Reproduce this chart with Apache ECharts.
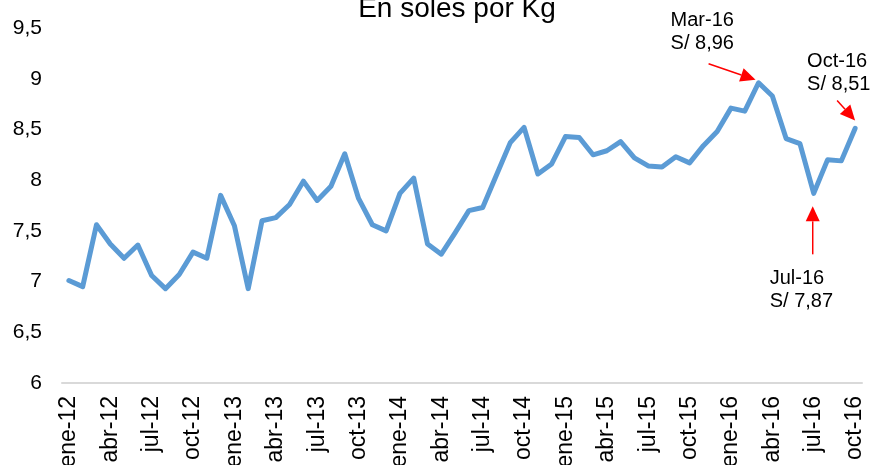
<!DOCTYPE html>
<html>
<head>
<meta charset="utf-8">
<script src="https://cdn.jsdelivr.net/npm/echarts@6/dist/echarts.min.js"></script>
<style>html,body{margin:0;padding:0;background:#fff}#c{width:871px;height:465px}</style>
</head>
<body>
<div id="c"></div>
<script>
const years = ['12','13','14','15','16'];
const months = ['ene','feb','mar','abr','may','jun','jul','ago','sep','oct','nov','dic'];
const categories = [];
years.forEach(y => months.forEach(m => categories.push(m + '-' + y)));
categories.length = 58; // ene-12 .. oct-16

const prices = [
  7.01, 6.95, 7.56, 7.37, 7.23, 7.36, 7.06, 6.93, 7.07, 7.29, 7.23, 7.85,
  7.55, 6.93, 7.60, 7.63, 7.76, 7.99, 7.80, 7.94, 8.26, 7.82, 7.56, 7.50,
  7.87, 8.02, 7.37, 7.27, 7.48, 7.70, 7.73, 8.05, 8.37, 8.52, 8.06, 8.16,
  8.43, 8.42, 8.25, 8.29, 8.38, 8.22, 8.14, 8.13, 8.23, 8.17, 8.34, 8.48,
  8.71, 8.68, 8.96, 8.83, 8.41, 8.36, 7.87, 8.20, 8.19, 8.51
];

const yTicks = [6, 6.5, 7, 7.5, 8, 8.5, 9, 9.5];
const titleText = 'En soles por Kg';
const notes = [
  { idx: 50, lines: ['Mar-16', 'S/ 8,96'] },
  { idx: 57, lines: ['Oct-16', 'S/ 8,51'] },
  { idx: 54, lines: ['Jul-16', 'S/ 7,87'] }
];

const FONT = '"Liberation Sans", Arial, sans-serif';
const chart = echarts.init(document.getElementById('c'), null, { renderer: 'canvas' });

chart.setOption({
  animation: false,
  backgroundColor: '#fff',
  title: {
    text: titleText,
    left: 452, top: -10,
    textAlign: 'center',
    textStyle: { fontFamily: FONT, fontSize: 28, fontWeight: 'normal', color: '#000' }
  },
  grid: { left: 62, right: 9, top: 28, bottom: 82, containLabel: false, outerBoundsMode: 'none' },
  xAxis: {
    type: 'category',
    data: categories,
    boundaryGap: true,
    axisLine: { lineStyle: { color: '#d9d9d9', width: 2 } },
    axisTick: { interval: 2, length: 7, lineStyle: { color: '#d9d9d9', width: 2 } },
    axisLabel: {
      interval: 2, rotate: 90, margin: 13,
      fontFamily: FONT, fontSize: 23, color: '#000'
    },
    splitLine: { show: false }
  },
  yAxis: {
    type: 'value',
    min: yTicks[0], max: yTicks[yTicks.length - 1], interval: 0.5,
    axisLine: { show: false },
    axisTick: { show: false },
    splitLine: { show: false },
    axisLabel: {
      margin: 20, fontFamily: FONT, fontSize: 21, color: '#000',
      formatter: v => String(v).replace('.', ',')
    }
  },
  series: [{
    type: 'line',
    data: prices,
    symbol: 'none',
    lineStyle: { color: '#5B9BD5', width: 5, join: 'round', cap: 'round' },
    z: 2
  }]
});

function arrow(tail, tip, headLen, headW) {
  const dx = tip[0] - tail[0], dy = tip[1] - tail[1];
  const L = Math.sqrt(dx * dx + dy * dy);
  const ux = dx / L, uy = dy / L;
  const bx = tip[0] - ux * headLen, by = tip[1] - uy * headLen;
  const px = -uy * headW / 2, py = ux * headW / 2;
  return [
    { type: 'line', shape: { x1: tail[0], y1: tail[1], x2: bx, y2: by },
      style: { stroke: '#ff0000', lineWidth: 1.5 }, z: 10 },
    { type: 'polygon', shape: { points: [tip, [bx + px, by + py], [bx - px, by - py]] },
      style: { fill: '#ff0000' }, z: 10 }
  ];
}

const P = i => chart.convertToPixel({ seriesIndex: 0 }, [i, prices[i]]);
const pMar = P(notes[0].idx), pOct = P(notes[1].idx), pJul = P(notes[2].idx);

const textStyle = { fontFamily: FONT, fontSize: 20, fill: '#000', lineHeight: 23, verticalAlign: 'top', align: 'left' };
const g = [];
g.push(...arrow([pMar[0] - 50, pMar[1] - 19], [pMar[0] - 3, pMar[1] - 3], 15, 14));
g.push(...arrow([pOct[0] - 18, pOct[1] - 28], [pOct[0], pOct[1] - 8], 15, 14));
g.push(...arrow([pJul[0] - 1, pJul[1] + 61], [pJul[0] - 1, pJul[1] + 13], 15, 14));
g.push({ type: 'text', x: pMar[0] - 88, y: pMar[1] - 74, style: Object.assign({ text: notes[0].lines.join('\n') }, textStyle), z: 10 });
g.push({ type: 'text', x: pOct[0] - 48, y: pOct[1] - 78, style: Object.assign({ text: notes[1].lines.join('\n') }, textStyle), z: 10 });
g.push({ type: 'text', x: pJul[0] - 44, y: pJul[1] + 74, style: Object.assign({ text: notes[2].lines.join('\n') }, textStyle), z: 10 });

chart.setOption({ graphic: g });
</script>
</body>
</html>
